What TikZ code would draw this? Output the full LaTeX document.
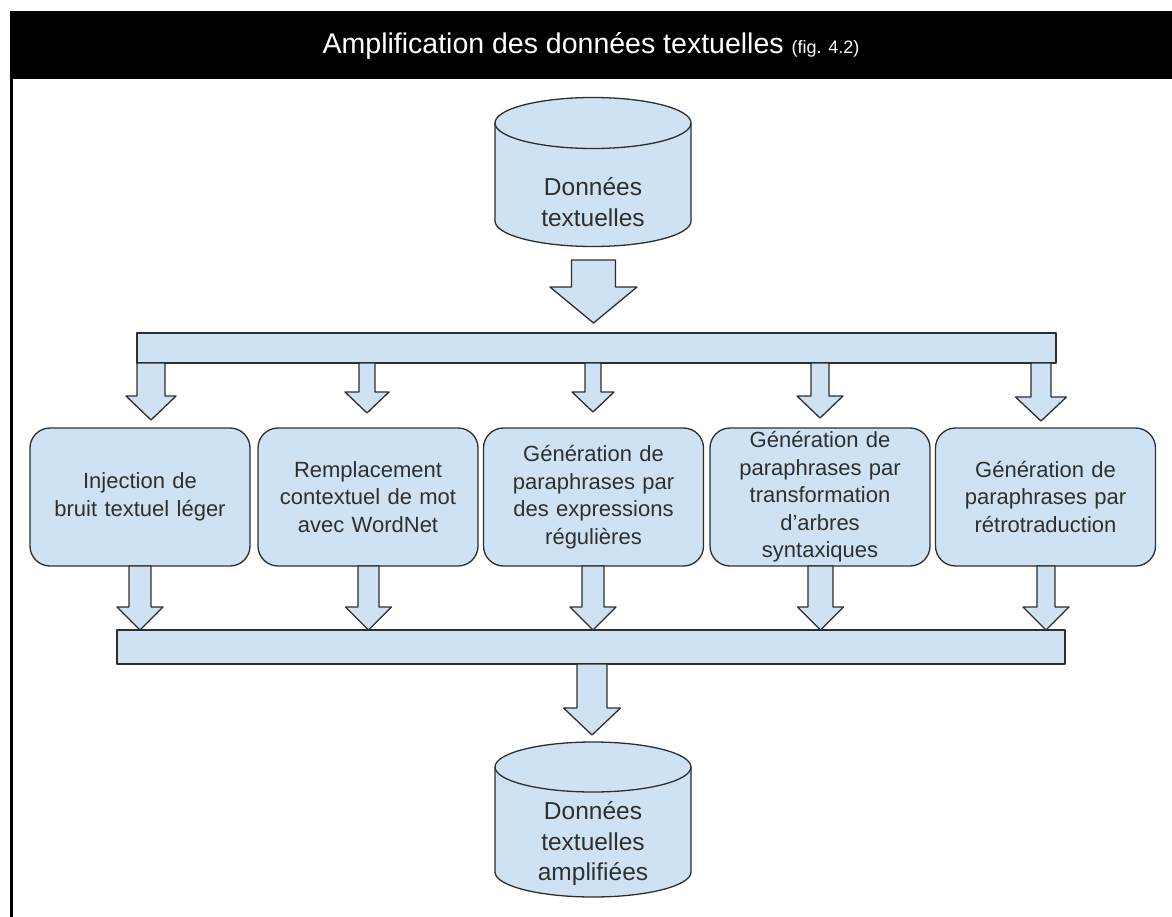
\documentclass[tikz,border=0pt]{standalone}
\usepackage{fontspec}
\setmainfont{Liberation Sans}
\usetikzlibrary{calc}

\definecolor{boxfill}{HTML}{CFE2F3}
\definecolor{boxline}{HTML}{2E2E2E}
\definecolor{boxtext}{HTML}{2F2F2F}

\tikzset{
  shapeline/.style={draw=boxline, line width=1.3pt, fill=boxfill, line join=round},
  barbox/.style={shapeline, rectangle, inner sep=0pt},
  stagebox/.style={shapeline, rectangle, rounded corners=20pt, minimum width=220pt,
    minimum height=138pt, text width=200pt, align=center, inner sep=0pt,
    text=boxtext, font=\fontsize{22}{27.5}\selectfont},
  dbtext/.style={align=center, inner sep=0pt, text=boxtext,
    font=\fontsize{24.5}{30.5}\selectfont},
  blockarrow/.style={shapeline}
}

% block arrow: centre x, top y, tip y, shaft half width, head half width, head length
\newcommand{\blockarr}[6]{%
  \draw[blockarrow] ({#1-#4},#2) -- ({#1+#4},#2) -- ({#1+#4},{#3-#6}) --
    ({#1+#5},{#3-#6}) -- (#1,#3) -- ({#1-#5},{#3-#6}) -- ({#1-#4},{#3-#6}) -- cycle;}

% database cylinder: centre x, x radius, top ellipse y, bottom ellipse y, y radius
\newcommand{\database}[5]{%
  \draw[shapeline] ({#1-#2},#3) -- ({#1-#2},#4)
    arc[start angle=180, end angle=360, x radius=#2pt, y radius=#5pt]
    -- ({#1+#2},#3)
    arc[start angle=0, end angle=180, x radius=#2pt, y radius=#5pt] -- cycle;
  \draw[draw=boxline, line width=1.3pt] ({#1-#2},#3)
    arc[start angle=180, end angle=360, x radius=#2pt, y radius=#5pt];}

\begin{document}
\begin{tikzpicture}[x=1pt, y=-1pt]
  \useasboundingbox (0,0) rectangle (1172,917);

  % header band and frame edge
  \fill[black] (10,11) rectangle (1172,79);
  \draw[black, line width=3pt] (11.5,79) -- (11.5,917);
  \node[text=white, inner sep=0pt] (title) at (591,46)
    {\fontsize{28.5}{32}\selectfont Amplification des données textuelles
     \fontsize{18}{20}\selectfont(fig. 4.2)};

  % source data
  \database{593}{98}{123}{221}{25.5}
  \node[dbtext] (src) at (593,202) {Données\\textuelles};

  % arrow into the distribution bar
  \blockarr{593.5}{260}{323}{22}{43.5}{36}

  % distribution bar
  \node[barbox, minimum width=919pt, minimum height=30pt] (bar1) at (596.5,348) {};

  % arrows down to each augmentation technique
  \blockarr{151}{363}{420}{14}{25}{24}
  \blockarr{367}{363}{413}{8}{22}{21}
  \blockarr{593}{363}{412}{8}{21}{20}
  \blockarr{820}{363}{418}{9}{23}{22}
  \blockarr{1041}{363}{421}{10}{25.5}{24}

  % augmentation techniques
  \node[stagebox] (t1) at (140,497) {Injection de\\bruit textuel léger};
  \node[stagebox] (t2) at (368,497) {Remplacement\\contextuel de mot\\avec WordNet};
  \node[stagebox] (t3) at (593.5,497) {Génération de\\paraphrases par\\des expressions\\régulières};
  \node[stagebox] (t4) at (820,497) {Génération de\\paraphrases par\\transformation\\d’arbres\\syntaxiques};
  \node[stagebox] (t5) at (1045.5,497) {Génération de\\paraphrases par\\rétrotraduction};

  % arrows from each technique into the merging bar
  \blockarr{140}{566}{630}{11}{23}{23}
  \blockarr{368.5}{566}{630}{10.5}{23}{23}
  \blockarr{593}{566}{630}{11}{23}{23}
  \blockarr{820.5}{566}{630}{12.5}{23}{23}
  \blockarr{1046}{566}{630}{9}{23}{23}

  % merging bar
  \node[barbox, minimum width=948pt, minimum height=34pt] (bar2) at (591,647) {};

  % arrow to the augmented data
  \blockarr{592}{664}{735}{15}{28.5}{27}

  % augmented data
  \database{593}{98}{767}{872}{25}
  \node[dbtext] (dst) at (593,844) {Données\\textuelles\\amplifiées};
\end{tikzpicture}
\end{document}
